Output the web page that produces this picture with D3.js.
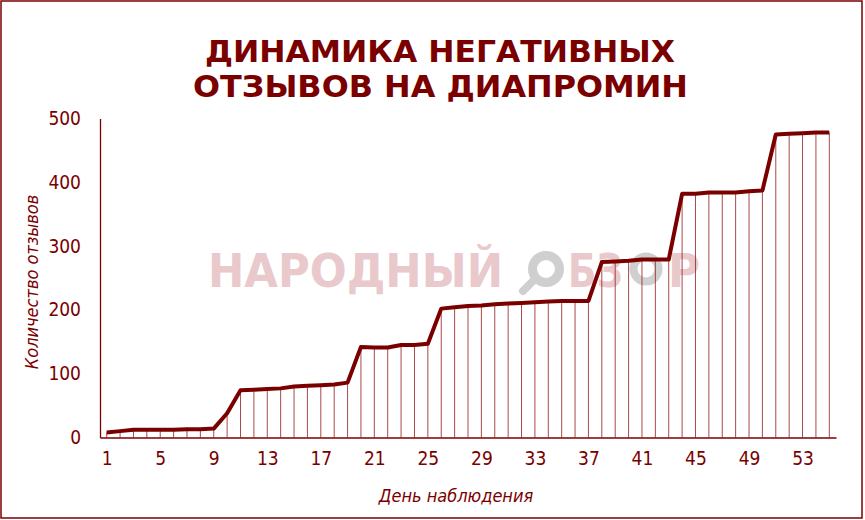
<!DOCTYPE html>
<html>
<head>
<meta charset="utf-8">
<script src="https://cdn.jsdelivr.net/npm/d3@7"></script>
<style>
  html, body { margin: 0; padding: 0; background: #fff; }
  svg { display: block; }
  .cond { font-family: 'DejaVu Sans Condensed', 'DejaVu Sans', sans-serif; font-stretch: condensed; }
</style>
</head>
<body>
<svg id="chart" width="865" height="520"></svg>
<script>
const titleLines = ["ДИНАМИКА НЕГАТИВНЫХ", "ОТЗЫВОВ НА ДИАПРОМИН"];
const xAxisTitle = "День наблюдения";
const yAxisTitle = "Количество отзывов";
const watermarkParts = ["НАРОДНЫЙ", "БЗ", "Р"];
const days = d3.range(1, 56);
const reviews = [8, 10, 12, 12, 12, 12, 13, 13, 14, 38,
                 74, 75, 76, 77, 80, 81, 82, 83, 86, 142,
                 141, 141, 145, 145, 147, 202, 204, 206, 207, 209,
                 210, 211, 212, 213, 214, 214, 214, 275, 276, 277,
                 279, 279, 279, 382, 382, 384, 384, 384, 386, 387,
                 475, 476, 477, 478, 478];
const xTickLabels = [1, 5, 9, 13, 17, 21, 25, 29, 33, 37, 41, 45, 49, 53];
const yTickLabels = [0, 100, 200, 300, 400, 500];

const DARK = "#7a0000";
const PINK = "#e9c9cb";
const GREY = "#cfcfcf";
const svg = d3.select("#chart");

// border
svg.append("rect").attr("x", 1).attr("y", 1).attr("width", 861).attr("height", 517)
  .attr("fill", "#fff").attr("stroke", DARK).attr("stroke-width", 1.5);

// title
const tl = [{t: titleLines[0], y: 62, x0: 205, w: 470}, {t: titleLines[1], y: 97, x0: 193, w: 495}];
tl.forEach(d => {
  svg.append("text").attr("x", d.x0).attr("y", d.y)
    .attr("textLength", d.w).attr("lengthAdjust", "spacingAndGlyphs")
    .attr("font-family", "'DejaVu Sans', sans-serif").attr("font-weight", "bold")
    .attr("font-size", 31).attr("fill", DARK).text(d.t);
});

const x = d3.scalePoint().domain(days).range([100, 836]).padding(0.5);
const y = d3.scaleLinear().domain([0, 500]).range([437.5, 118.5]);

// watermark (letters + grey "О" rings of the logo)
const wmPos = [[208, 295], [568, 55], [668, 32]];
watermarkParts.forEach((t, i) => {
  svg.append("text").attr("x", wmPos[i][0]).attr("y", 287)
    .attr("textLength", wmPos[i][1]).attr("lengthAdjust", "spacingAndGlyphs")
    .attr("font-family", "'DejaVu Sans', sans-serif").attr("font-weight", "bold")
    .attr("font-size", 46).attr("fill", PINK).text(t);
});
svg.append("circle").attr("cx", 546).attr("cy", 269).attr("r", 13.5)
  .attr("fill", "none").attr("stroke", GREY).attr("stroke-width", 9);
svg.append("line").attr("x1", 523).attr("y1", 291).attr("x2", 534).attr("y2", 280)
  .attr("stroke", GREY).attr("stroke-width", 8).attr("stroke-linecap", "round");
svg.append("circle").attr("cx", 646).attr("cy", 269).attr("r", 12.5)
  .attr("fill", "none").attr("stroke", GREY).attr("stroke-width", 8);

// drop lines
svg.append("g").selectAll("line").data(days).join("line")
  .attr("x1", d => x(d)).attr("x2", d => x(d))
  .attr("y1", (d, i) => y(reviews[i])).attr("y2", y(0))
  .attr("stroke", "#9c2a2a").attr("stroke-width", 1).attr("opacity", 0.85);

// axes
const yAxis = svg.append("g").attr("transform", "translate(100,0)")
  .call(d3.axisLeft(y).tickValues(yTickLabels).tickSize(0).tickPadding(19));
yAxis.select(".domain").attr("stroke", DARK).attr("stroke-width", 1.3);
yAxis.selectAll("text").attr("fill", DARK).attr("class", "cond").attr("font-size", 19);

const xAxis = svg.append("g").attr("transform", `translate(0,${y(0)})`)
  .call(d3.axisBottom(x).tickValues(xTickLabels).tickSize(0).tickPadding(14));
xAxis.select(".domain").attr("stroke", DARK).attr("stroke-width", 1.3);
xAxis.selectAll("text").attr("fill", DARK).attr("class", "cond").attr("font-size", 19);
svg.selectAll("g").attr("font-family", null);

// line
svg.append("path").datum(days)
  .attr("fill", "none").attr("stroke", DARK).attr("stroke-width", 4)
  .attr("stroke-linejoin", "round")
  .attr("d", d3.line().x(d => x(d)).y((d, i) => y(reviews[i])));

// axis titles
svg.append("text").attr("class", "cond").attr("x", 456).attr("y", 502).attr("text-anchor", "middle")
  .attr("font-style", "italic").attr("font-size", 18)
  .attr("fill", DARK).text(xAxisTitle);
svg.append("text").attr("class", "cond").attr("transform", "translate(38,282) rotate(-90)").attr("text-anchor", "middle")
  .attr("font-style", "italic").attr("font-size", 18)
  .attr("fill", DARK).text(yAxisTitle);
</script>
</body>
</html>
